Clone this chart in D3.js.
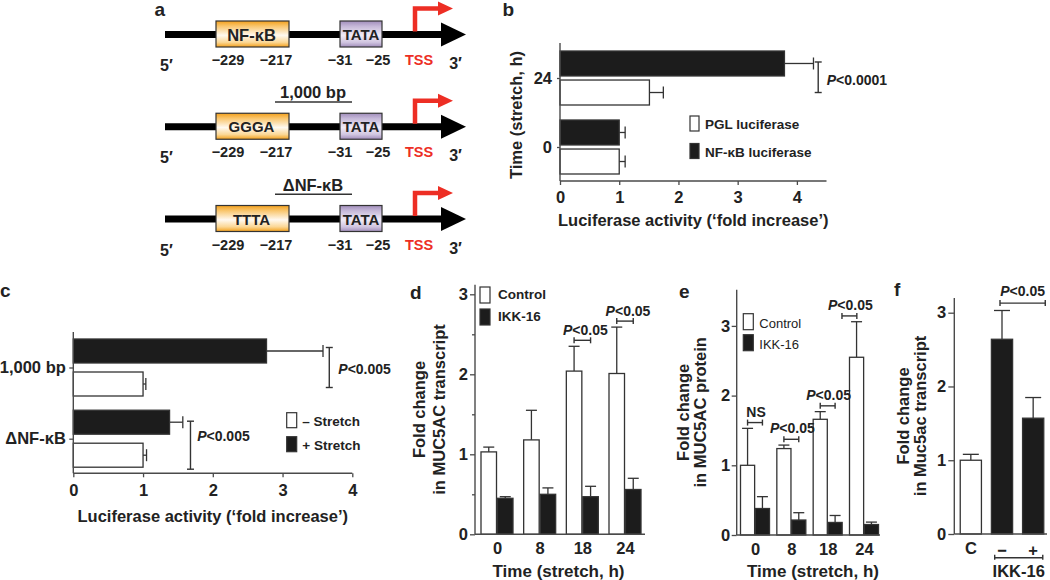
<!DOCTYPE html>
<html><head><meta charset="utf-8">
<script src="https://cdn.jsdelivr.net/npm/d3@7"></script>
<style>
html,body{margin:0;padding:0;background:#fff;}
svg{display:block;}
text{font-family:"Liberation Sans",Arial,Helvetica,sans-serif;font-weight:bold;}
</style></head><body>
<svg id="fig" width="1050" height="580"></svg>
<script>
// ---------------- DATA ----------------
// Panel a: promoter constructs
const constructNames = ["NF-κB", "GGGA", "TTTA"];
const constructTitles = ["", "1,000 bp", "ΔNF-κB"];
const siteLabels = ["−229", "−217", "−31", "−25"];

// Panel b
const bTimes = ["24", "0"];
const bSeries = ["NF-κB luciferase", "PGL luciferase"];
const bNFkB = [3.79, 1.00];
const bNFkBErr = [0.49, 0.10];
const bPGL = [1.51, 1.00];
const bPGLErr = [0.235, 0.10];
const bTicks = [0, 1, 2, 3, 4];

// Panel c
const cConstructs = ["1,000 bp", "ΔNF-κB"];
const cSeries = ["+ Stretch", "– Stretch"];
const cPlus = [2.77, 1.38];
const cPlusErr = [0.81, 0.19];
const cMinus = [1.00, 1.00];
const cMinusErr = [0.04, 0.05];
const cTicks = [0, 1, 2, 3, 4];

// Panel d
const dTimes = ["0", "8", "18", "24"];
const dSeries = ["Control", "IKK-16"];
const dControl = [1.03, 1.18, 2.04, 2.01];
const dControlErr = [0.06, 0.37, 0.31, 0.58];
const dIKK = [0.45, 0.50, 0.47, 0.56];
const dIKKErr = [0.02, 0.08, 0.13, 0.14];
const dTicks = [0, 1, 2, 3];
const dMinorTicks = [0.5, 1.5, 2.5];

// Panel e
const eTimes = ["0", "8", "18", "24"];
const eControl = [1.00, 1.24, 1.66, 2.55];
const eControlErr = [0.53, 0.05, 0.11, 0.51];
const eIKK = [0.38, 0.215, 0.18, 0.15];
const eIKKErr = [0.17, 0.105, 0.10, 0.035];
const eTicks = [0, 1, 2, 3];
const eSigLabels = ["NS", "P<0.05", "P<0.05", "P<0.05"];

// Panel f
const fGroups = ["C", "−", "+"];
const fValues = [1.00, 2.64, 1.57];
const fErr = [0.08, 0.39, 0.28];
const fTicks = [0, 1, 2, 3];

// ---------------- STYLE ----------------
const INK = "#222", AX = "#4a4a4a", BLK = "#1c1c1c", RED = "#ed2e24", EB = "#333";
const svg = d3.select("#fig");
svg.append("rect").attr("width", 1050).attr("height", 580).attr("fill", "#fff");
const defs = svg.append("defs");
const intFmt = d3.format("d");

function txt(g, x, y, s, o = {}) {
  const t = g.append("text").attr("x", x).attr("y", y)
    .attr("text-anchor", o.anchor || "start")
    .attr("dominant-baseline", o.baseline || "central")
    .style("font-size", (o.size || 16.5) + "px")
    .style("font-weight", o.weight || "bold")
    .attr("fill", o.fill || INK);
  if (o.rotate) t.attr("transform", `rotate(${o.rotate},${x},${y})`);
  if (s.startsWith("P<")) {
    t.append("tspan").style("font-style", "italic").text("P");
    t.append("tspan").text(s.slice(1));
  } else t.text(s);
  return t;
}
function axLine(g, x1, y1, x2, y2) {
  g.append("line").attr("x1", x1).attr("y1", y1).attr("x2", x2).attr("y2", y2)
    .attr("stroke", AX).attr("stroke-width", 1.4);
}
function axisStyle(a, fs) {
  a.attr("font-family", null).attr("font-size", null);
  a.select("path.domain").remove();
  a.selectAll(".tick line").attr("stroke", AX).attr("stroke-width", 1.3);
  a.selectAll(".tick text").attr("fill", INK).style("font-size", (fs || 16.5) + "px").style("font-weight", "bold");
}
function seg(g, x1, y1, x2, y2, w) {
  g.append("line").attr("x1", x1).attr("y1", y1).attr("x2", x2).attr("y2", y2)
    .attr("stroke", EB).attr("stroke-width", w || 1.3);
}
function letter(s, x, y) { txt(svg, x, y, s, { size: 19, baseline: "alphabetic" }); }

// ---------------- PANEL A ----------------
(function () {
  const g = svg.append("g");
  const rowY = d3.scalePoint().domain(constructNames).range([34.5, 219]);
  const L = { x0: 165, hx0: 441, hx1: 466, lw: 7, hh: 12, box: [216, 289], tata: [340, 382],
    by: -13.5, bh: 26, tssX: 415, tssTop: -26, tssH: 439, tssTip: 453, tssHead: 7,
    siteX: [228, 276, 340, 378], tssLabX: 419, p5: 160, p3: 455.5 };
  const og = defs.append("linearGradient").attr("id", "gOrange").attr("x1", 0).attr("y1", 0).attr("x2", 0).attr("y2", 1);
  [[0, "#f3a01c"], [0.2, "#f9c66e"], [0.55, "#fff9f0"], [0.82, "#fbd794"], [1, "#f3a01c"]]
    .forEach(s => og.append("stop").attr("offset", s[0]).attr("stop-color", s[1]));
  const pg = defs.append("linearGradient").attr("id", "gPurple").attr("x1", 0).attr("y1", 0).attr("x2", 0).attr("y2", 1);
  [[0, "#a18dbb"], [0.2, "#c5b8d8"], [0.55, "#f0ebf6"], [0.82, "#d0c5e0"], [1, "#a18dbb"]]
    .forEach(s => pg.append("stop").attr("offset", s[0]).attr("stop-color", s[1]));

  constructNames.forEach((name, i) => {
    const cy = rowY(name);
    g.append("rect").attr("x", L.x0).attr("y", cy - L.lw / 2).attr("width", L.hx0 - L.x0 + 1).attr("height", L.lw).attr("fill", "#000");
    g.append("path").attr("d", `M${L.hx0},${cy - L.hh}L${L.hx1},${cy}L${L.hx0},${cy + L.hh}Z`).attr("fill", "#000");
    g.append("path").attr("d", `M${L.tssX},${cy - 3}V${cy + L.tssTop}H${L.tssH}`)
      .attr("fill", "none").attr("stroke", RED).attr("stroke-width", 4.5);
    g.append("path").attr("d", `M${L.tssH - 1},${cy + L.tssTop - L.tssHead}L${L.tssTip},${cy + L.tssTop}L${L.tssH - 1},${cy + L.tssTop + L.tssHead}Z`).attr("fill", RED);
    g.append("rect").attr("x", L.box[0]).attr("y", cy + L.by).attr("width", L.box[1] - L.box[0]).attr("height", L.bh)
      .attr("fill", "url(#gOrange)").attr("stroke", "#333").attr("stroke-width", 1.2);
    g.append("rect").attr("x", L.tata[0]).attr("y", cy + L.by).attr("width", L.tata[1] - L.tata[0]).attr("height", L.bh)
      .attr("fill", "url(#gPurple)").attr("stroke", "#333").attr("stroke-width", 1.2);
    txt(g, (L.box[0] + L.box[1]) / 2 - 1, cy, name, { anchor: "middle", size: i === 0 ? 16.5 : 15 });
    txt(g, (L.tata[0] + L.tata[1]) / 2, cy, "TATA", { anchor: "middle", size: 15 });
    siteLabels.forEach((s, j) => txt(g, L.siteX[j], cy + 25.5, s, { anchor: "middle", size: 14.5 }));
    txt(g, L.tssLabX, cy + 25.5, "TSS", { anchor: "middle", size: 14.5, fill: RED });
    txt(g, L.p5, cy + 31, "5′", { size: 16 });
    txt(g, L.p3, cy + 29, "3′", { anchor: "middle", size: 16 });
    if (constructTitles[i]) {
      txt(g, 313, cy - 34.5, constructTitles[i], { anchor: "middle", size: 16.5 });
      g.append("line").attr("x1", 275).attr("x2", 352).attr("y1", cy - 24.7).attr("y2", cy - 24.7)
        .attr("stroke", "#333").attr("stroke-width", 1.5);
    }
  });
  letter("a", 154.5, 16);
})();

// ---------------- HORIZONTAL BAR PANELS (b, c) ----------------
function hPanel(cfg) {
  const g = svg.append("g");
  const x = d3.scaleLinear().domain(cfg.xDomain).range(cfg.xRange);
  const yc = d3.scalePoint().domain(cfg.cats).range(cfg.yRange);
  const yi = d3.scaleBand().domain(cfg.series).range([-cfg.half, cfg.half]).paddingInner(cfg.pad);
  const bw = yi.bandwidth();
  const rows = [];
  cfg.cats.forEach((c, i) => {
    rows.push({ c, s: cfg.series[0], v: cfg.v0[i], e: cfg.e0[i], fill: BLK });
    rows.push({ c, s: cfg.series[1], v: cfg.v1[i], e: cfg.e1[i], fill: "#fff" });
  });
  const ry = d => yc(d.c) + yi(d.s);
  rows.forEach(d => {
    const cy = ry(d) + bw / 2;
    seg(g, x(d.v), cy, x(d.v + d.e), cy);
    seg(g, x(d.v + d.e), cy - 6, x(d.v + d.e), cy + 6);
  });
  g.selectAll("rect.bar").data(rows).join("rect").attr("class", "bar")
    .attr("x", x(0)).attr("y", ry).attr("width", d => x(d.v) - x(0)).attr("height", bw)
    .attr("fill", d => d.fill).attr("stroke", "#333").attr("stroke-width", 1.3);
  // axes
  const axisY = cfg.axisBottom;
  axLine(g, x(0), cfg.axisTop, x(0), axisY);
  axLine(g, x(0), axisY, x(cfg.xDomain[1]), axisY);
  const xa = g.append("g").attr("transform", `translate(0,${axisY})`)
    .call(d3.axisBottom(x).tickValues(cfg.ticks).tickFormat(intFmt).tickSize(4).tickPadding(cfg.xPad).tickSizeOuter(0));
  axisStyle(xa);
  const ya = g.append("g").attr("transform", `translate(${x(0)},0)`)
    .call(d3.axisLeft(yc).tickSize(cfg.yTick).tickPadding(cfg.yPad));
  axisStyle(ya);
  // significance
  cfg.sig.forEach(s => {
    const y1 = yc(s.cat) + yi(cfg.series[0]) + bw / 2 + s.ext[0];
    const y2 = yc(s.cat) + yi(cfg.series[1]) + bw / 2 + s.ext[1];
    const sx = x(s.x);
    seg(g, sx, y1, sx, y2, 1.4);
    seg(g, sx - 3.5, y1, sx + 3.5, y1, 1.4);
    seg(g, sx - 3.5, y2, sx + 3.5, y2, 1.4);
    txt(g, sx + s.dx, yc(s.cat) + s.dy, s.label, { size: 14 });
  });
  // legend (white first, black second)
  const lg = cfg.legend;
  [[cfg.series[1], "#fff"], [cfg.series[0], BLK]].forEach((d, i) => {
    const cy = lg.y + i * lg.step;
    g.append("rect").attr("x", lg.x).attr("y", cy - lg.h / 2).attr("width", lg.w).attr("height", lg.h)
      .attr("fill", d[1]).attr("stroke", "#333").attr("stroke-width", 1.2);
    txt(g, lg.x + lg.w + lg.gap, cy + 1, d[0], { size: 13.5 });
  });
  txt(g, (x(0) + x(cfg.xDomain[1])) / 2, cfg.titleY, "Luciferase activity (‘fold increase’)", { anchor: "middle", size: 16.5 });
  return { g, x, yc };
}

// Panel b
(function () {
  hPanel({
    cats: bTimes, series: bSeries,
    v0: bNFkB, e0: bNFkBErr, v1: bPGL, e1: bPGLErr,
    xDomain: [0, 4.5], xRange: [560, 826.5], yRange: [78, 147], half: 27, pad: 0.14,
    axisTop: 43, axisBottom: 181, ticks: bTicks, xPad: 6.2, yTick: 3, yPad: 5,
    sig: [{ cat: "24", x: 4.36, ext: [-1.5, 0], dx: 8.5, dy: 2, label: "P<0.0001" }],
    legend: { x: 690, y: 123.5, step: 27.5, w: 9, h: 15, gap: 6 },
    titleY: 220
  });
  txt(svg, 516, 115, "Time (stretch, h)", { anchor: "middle", size: 16.5, rotate: -90 });
  letter("b", 502.5, 16);
})();

// Panel c
(function () {
  hPanel({
    cats: cConstructs, series: cSeries,
    v0: cPlus, e0: cPlusErr, v1: cMinus, e1: cMinusErr,
    xDomain: [0, 4], xRange: [73.3, 352.3], yRange: [367.5, 438.7], half: 28.5, pad: 0.273,
    axisTop: 332, axisBottom: 473.3, ticks: cTicks, xPad: 6.9, yTick: 4, yPad: 3.5,
    sig: [{ cat: "1,000 bp", x: 3.67, ext: [-3.5, 3.5], dx: 9, dy: 1.5, label: "P<0.005" },
          { cat: "ΔNF-κB", x: 1.68, ext: [-1, 14], dx: 6.7, dy: -3, label: "P<0.005" }],
    legend: { x: 286.7, y: 420.2, step: 24, w: 10, h: 15, gap: 5.6 },
    titleY: 516
  });
  letter("c", 0, 297);
})();

// ---------------- VERTICAL BAR PANELS (d, e) ----------------
function vPanel(cfg) {
  const g = svg.append("g");
  const x = d3.scalePoint().domain(cfg.cats).range(cfg.xRange);
  const xi = d3.scaleBand().domain(dSeries).range([-cfg.half, cfg.half]).paddingInner(cfg.pad);
  const bw = xi.bandwidth();
  const y = d3.scaleLinear().domain([0, 3]).range(cfg.yRange);
  const rows = [];
  cfg.cats.forEach((c, i) => {
    rows.push({ c, s: dSeries[0], v: cfg.ctrl[i], e: cfg.ctrlErr[i], fill: "#fff" });
    rows.push({ c, s: dSeries[1], v: cfg.ikk[i], e: cfg.ikkErr[i], fill: BLK });
  });
  const rx = d => x(d.c) + xi(d.s);
  rows.forEach(d => {
    const cx = rx(d) + bw / 2;
    seg(g, cx, y(d.v), cx, y(d.v + d.e));
    seg(g, cx - 5.5, y(d.v + d.e), cx + 5.5, y(d.v + d.e));
  });
  g.selectAll("rect.bar").data(rows).join("rect").attr("class", "bar")
    .attr("x", rx).attr("y", d => y(d.v)).attr("width", bw).attr("height", d => y(0) - y(d.v))
    .attr("fill", d => d.fill).attr("stroke", "#333").attr("stroke-width", 1.3);
  const ax0 = x(cfg.cats[0]) - cfg.leftGap;
  axLine(g, ax0, y(cfg.yTop), ax0, y(0));
  axLine(g, ax0, y(0), x(cfg.cats[cfg.cats.length - 1]) + cfg.rightGap, y(0));
  const ya = g.append("g").attr("transform", `translate(${ax0},0)`)
    .call(d3.axisLeft(y).tickValues(cfg.ticks).tickFormat(intFmt).tickSize(5).tickPadding(cfg.yPad));
  axisStyle(ya);
  if (cfg.minor) {
    const ma = g.append("g").attr("transform", `translate(${ax0},0)`)
      .call(d3.axisLeft(y).tickValues(cfg.minor).tickSize(3).tickFormat(""));
    axisStyle(ma);
  }
  const xa = g.append("g").attr("transform", `translate(0,${y(0)})`)
    .call(d3.axisBottom(x).tickSize(0).tickPadding(8.2));
  axisStyle(xa);
  // significance brackets
  cfg.sig.forEach((lab, i) => {
    if (!lab) return;
    const c = cfg.cats[i];
    const wc = x(c) + xi(dSeries[0]) + bw / 2 + (cfg.sigShift[i] || 0);
    const bc = x(c) + xi(dSeries[1]) + bw / 2 + (cfg.sigShift[i] || 0);
    const by = y(cfg.ctrl[i] + cfg.ctrlErr[i]) - cfg.sigGap;
    seg(g, wc, by, bc, by, 1.4);
    seg(g, wc, by - 3, wc, by + 3, 1.4);
    seg(g, bc, by - 3, bc, by + 3, 1.4);
    txt(g, (wc + bc) / 2 + cfg.sigDx, by - cfg.sigTextGap, lab, { anchor: "middle", size: 14 });
  });
  // legend
  const lg = cfg.legend;
  [[dSeries[0], "#fff"], [dSeries[1], BLK]].forEach((d, i) => {
    const cy = lg.y + i * lg.step;
    g.append("rect").attr("x", lg.x).attr("y", cy - lg.h / 2).attr("width", lg.w).attr("height", lg.h)
      .attr("fill", d[1]).attr("stroke", "#333").attr("stroke-width", 1.2);
    txt(g, lg.x + lg.w + lg.gap, cy + lg.tdy, d[0], { size: lg.size, weight: lg.weight });
  });
  txt(g, cfg.titleX, 571.7, "Time (stretch, h)", { anchor: "middle", size: 17 });
  const my = (y(0) + y(cfg.yTop)) / 2;
  txt(g, cfg.ylab[0], my, "Fold change", { anchor: "middle", size: 16.5, rotate: -90 });
  txt(g, cfg.ylab[1], my, cfg.ytitle, { anchor: "middle", size: 16.5, rotate: -90 });
}

// Panel d
vPanel({
  cats: dTimes, ctrl: dControl, ctrlErr: dControlErr, ikk: dIKK, ikkErr: dIKKErr,
  xRange: [497, 625], half: 16, pad: 0.06, yRange: [534.3, 294.3], yTop: 3.12,
  leftGap: 22, rightGap: 20, ticks: dTicks, minor: dMinorTicks, yPad: 2,
  sig: ["", "", "P<0.05", "P<0.05"], sigShift: [], sigGap: 6, sigTextGap: 10.3, sigDx: 3,
  legend: { x: 480, y: 295, step: 22, w: 10, h: 16, gap: 8, tdy: -1, size: 13.5, weight: "bold" },
  titleX: 558.5, ylab: [419, 438.5], ytitle: "in MUC5AC transcript"
});
letter("d", 410, 299);

// Panel e
vPanel({
  cats: eTimes, ctrl: eControl, ctrlErr: eControlErr, ikk: eIKK, ikkErr: eIKKErr,
  xRange: [755, 864], half: 14.5, pad: 0.05, yRange: [535, 325.9], yTop: 3.52,
  leftGap: 18.3, rightGap: 16, ticks: eTicks, minor: null, yPad: 1.5,
  sig: eSigLabels, sigShift: [0, 0, 0, -14.6], sigGap: 5.8, sigTextGap: 11, sigDx: 1,
  legend: { x: 743.3, y: 321.7, step: 21, w: 10, h: 16, gap: 6, tdy: 1.5, size: 13, weight: "normal" },
  titleX: 813, ylab: [683.5, 700.5], ytitle: "in MUC5AC protein"
});
letter("e", 679, 298);

// ---------------- PANEL F ----------------
(function () {
  const g = svg.append("g");
  const x = d3.scaleBand().domain(fGroups).range([954, 1050]).paddingInner(0.32).paddingOuter(0.2);
  const bw = x.bandwidth();
  const y = d3.scaleLinear().domain([0, 3]).range([534, 312.7]);
  const rows = fGroups.map((c, i) => ({ c, v: fValues[i], e: fErr[i], fill: i === 0 ? "#fff" : BLK }));
  rows.forEach(d => {
    const cx = x(d.c) + bw / 2;
    seg(g, cx, y(d.v), cx, y(d.v + d.e));
    seg(g, cx - 8, y(d.v + d.e), cx + 8, y(d.v + d.e));
  });
  g.selectAll("rect.bar").data(rows).join("rect").attr("class", "bar")
    .attr("x", d => x(d.c)).attr("y", d => y(d.v)).attr("width", bw).attr("height", d => y(0) - y(d.v))
    .attr("fill", d => d.fill).attr("stroke", "#333").attr("stroke-width", 1.3);
  const ax0 = 954.3;
  axLine(g, ax0, y(3.2), ax0, y(0));
  axLine(g, ax0, y(0), 1047, y(0));
  const ya = g.append("g").attr("transform", `translate(${ax0},0)`)
    .call(d3.axisLeft(y).tickValues(fTicks).tickFormat(intFmt).tickSize(6).tickPadding(2));
  axisStyle(ya);
  const xa = g.append("g").attr("transform", `translate(0,${y(0)})`)
    .call(d3.axisBottom(x).tickSize(0).tickPadding(8.2));
  axisStyle(xa);
  xa.selectAll(".tick text").filter(d => d !== "C").attr("dy", "0.85em");
  // top bracket
  const t1 = x("−") + bw / 2 - 2, t2 = x("+") + bw + 1.5;
  const ty = y(fValues[1] + fErr[1]) - 7.4;
  seg(g, t1, ty, t2, ty, 1.4);
  seg(g, t1, ty - 3, t1, ty + 3, 1.4);
  seg(g, t2, ty - 3, t2, ty + 3, 1.4);
  txt(g, (t1 + t2) / 2, ty - 11.6, "P<0.05", { anchor: "middle", size: 14 });
  // bottom IKK-16 bracket
  const b1 = x("−") + 3.3, b2 = x("+") + bw - 1;
  const byy = y(0) + 23.7;
  seg(g, b1, byy, b2, byy, 1.4);
  seg(g, b1, byy - 3, b1, byy + 2, 1.4);
  seg(g, b2, byy - 3, b2, byy + 2, 1.4);
  txt(g, (b1 + b2) / 2, 571, "IKK-16", { anchor: "middle", size: 16.5 });
  const my = (y(0) + y(3.2)) / 2;
  txt(g, 903.5, my, "Fold change", { anchor: "middle", size: 16.5, rotate: -90 });
  txt(g, 920.5, my, "in Muc5ac transcript", { anchor: "middle", size: 16.5, rotate: -90 });
  letter("f", 894, 296);
})();
</script>
</body></html>
